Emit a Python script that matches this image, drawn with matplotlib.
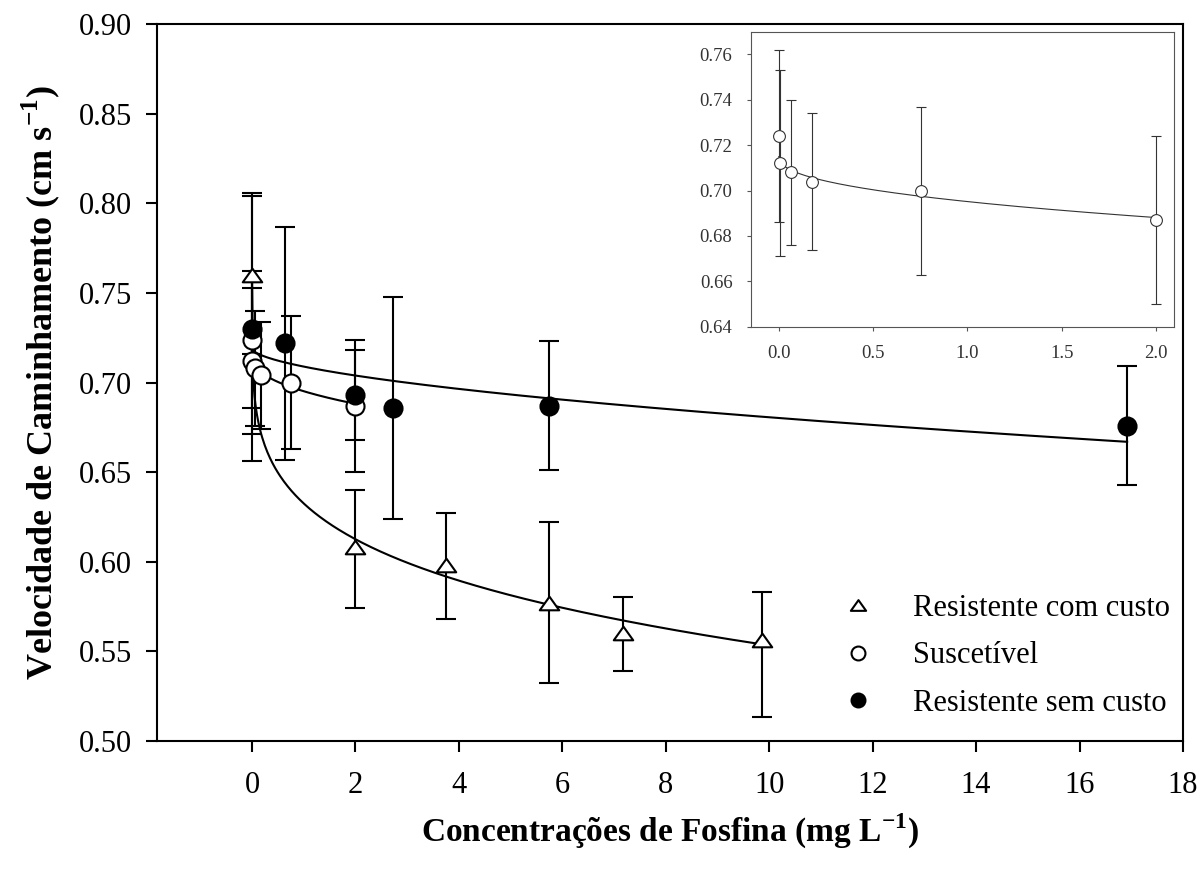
import numpy as np
import matplotlib.pyplot as plt
from matplotlib.path import Path
from matplotlib.lines import Line2D

plt.rcParams['font.family'] = ['Liberation Serif', 'DejaVu Serif']
plt.rcParams['mathtext.fontset'] = 'custom'
plt.rcParams['mathtext.rm'] = 'Liberation Serif'
plt.rcParams['mathtext.bf'] = 'Liberation Serif:bold'

# Resistente com custo (triangles)
rc_x = [0.0, 2.0, 3.75, 5.74, 7.17, 9.87]
rc_y = [0.760, 0.608, 0.598, 0.577, 0.560, 0.556]
rc_lo = [0.044, 0.034, 0.030, 0.045, 0.021, 0.043]
rc_hi = [0.046, 0.032, 0.029, 0.045, 0.020, 0.027]

# Suscetível (open circles)
su_x = [0.0, 0.007, 0.064, 0.178, 0.756, 2.0]
su_y = [0.724, 0.712, 0.708, 0.704, 0.700, 0.687]
su_err = [0.038, 0.041, 0.032, 0.030, 0.037, 0.037]

# Resistente sem custo (filled circles)
rs_x = [0.0, 0.645, 2.0, 2.72, 5.75, 16.92]
rs_y = [0.730, 0.722, 0.693, 0.686, 0.687, 0.676]
rs_err = [0.074, 0.065, 0.025, 0.062, 0.036, 0.033]

# fitted curves y = a - b * x**c
rc_fit = (0.760, 0.1275, 0.21)
su_fit = (0.715, 0.01985, 0.438)
rs_fit = (0.719, 0.0101, 0.58)

legend_labels = ['Resistente com custo', 'Suscetível', 'Resistente sem custo']


def fit_curve(params, xmax):
    a, b, c = params
    xs = np.linspace(0, xmax, 400)
    return xs, a - b * xs ** c


# wide, flat triangle like the original marker
tri = Path([(0, 0.7), (-1, -0.7), (1, -0.7), (0, 0.7)],
           [Path.MOVETO, Path.LINETO, Path.LINETO, Path.CLOSEPOLY])

fig = plt.figure(figsize=(12.01, 8.69), dpi=100)
ax = fig.add_axes([0.131, 0.1476, 0.854, 0.8244])

lw = 1.5
for params, xmax in [(rc_fit, max(rc_x)), (su_fit, max(su_x)), (rs_fit, max(rs_x))]:
    xs, ys = fit_curve(params, xmax)
    ax.plot(xs, ys, color='black', lw=lw, zorder=2)

ax.errorbar(rc_x, rc_y, yerr=[rc_lo, rc_hi], fmt='none', ecolor='black',
            elinewidth=lw, capsize=7.5, capthick=lw, zorder=3)
ax.errorbar(su_x, su_y, yerr=su_err, fmt='none', ecolor='black',
            elinewidth=lw, capsize=7.5, capthick=lw, zorder=3)
ax.errorbar(rs_x, rs_y, yerr=rs_err, fmt='none', ecolor='black',
            elinewidth=lw, capsize=7.5, capthick=lw, zorder=3)

ax.plot(rc_x, rc_y, linestyle='none', marker=tri, markersize=14,
        mfc='white', mec='black', mew=1.5, zorder=4)
ax.plot(su_x, su_y, linestyle='none', marker='o', markersize=13,
        mfc='white', mec='black', mew=1.5, zorder=4)
ax.plot(rs_x, rs_y, linestyle='none', marker='o', markersize=13,
        mfc='black', mec='black', mew=1.5, zorder=5)

ax.set_xlim(-1.83, 18)
ax.set_ylim(0.50, 0.90)
ax.set_xticks(np.arange(0, 19, 2))
ax.set_yticks(np.arange(0.50, 0.901, 0.05))
ax.set_yticklabels([f'{v:.2f}' for v in np.arange(0.50, 0.901, 0.05)])
ax.tick_params(direction='out', length=8, width=1.5, labelsize=22, pad=10)
ax.tick_params(axis='x', pad=14)
for s in ax.spines.values():
    s.set_linewidth(1.5)

ax.set_xlabel(r'Concentrações de Fosfina (mg L$^{\mathbf{-1}}$)',
              fontsize=24, fontweight='bold', labelpad=8)
ax.set_ylabel(r'Velocidade de Caminhamento (cm s$^{\mathbf{-1}}$)',
              fontsize=26, fontweight='bold', labelpad=12)

handles = [
    Line2D([], [], linestyle='none', marker=tri, markersize=11, mfc='white', mec='black', mew=1.5),
    Line2D([], [], linestyle='none', marker='o', markersize=10, mfc='white', mec='black', mew=1.5),
    Line2D([], [], linestyle='none', marker='o', markersize=10, mfc='black', mec='black', mew=1.5),
]
ax.legend(handles, legend_labels, loc='upper left', bbox_to_anchor=(0.65, 0.226),
          frameon=False, fontsize=22, handlelength=1.2, handletextpad=1.2,
          labelspacing=0.6, borderpad=0)

# inset
gray = '#555555'
ins = fig.add_axes([0.6249, 0.6240, 0.3528, 0.3395])
xs, ys = fit_curve(su_fit, max(su_x))
ins.plot(xs, ys, color='#333333', lw=0.8, zorder=2)
ins.errorbar(su_x, su_y, yerr=su_err, fmt='none', ecolor='#333333',
             elinewidth=0.8, capsize=3.5, capthick=0.8, zorder=3)
ins.plot(su_x, su_y, linestyle='none', marker='o', markersize=8.5,
         mfc='white', mec='#333333', mew=0.8, zorder=4)
ins.set_xlim(-0.15, 2.096)
ins.set_ylim(0.64, 0.77)
ins.set_xticks([0.0, 0.5, 1.0, 1.5, 2.0])
ins.set_xticklabels(['0.0', '0.5', '1.0', '1.5', '2.0'])
ins.set_yticks(np.arange(0.64, 0.761, 0.02))
ins.set_yticklabels([f'{v:.2f}' for v in np.arange(0.64, 0.761, 0.02)])
ins.tick_params(direction='out', length=3, width=0.8, color=gray,
                labelsize=13.5, labelcolor='#333333', pad=10)
for s in ins.spines.values():
    s.set_linewidth(0.8)
    s.set_color(gray)

fig.savefig('out.png', dpi=100)
